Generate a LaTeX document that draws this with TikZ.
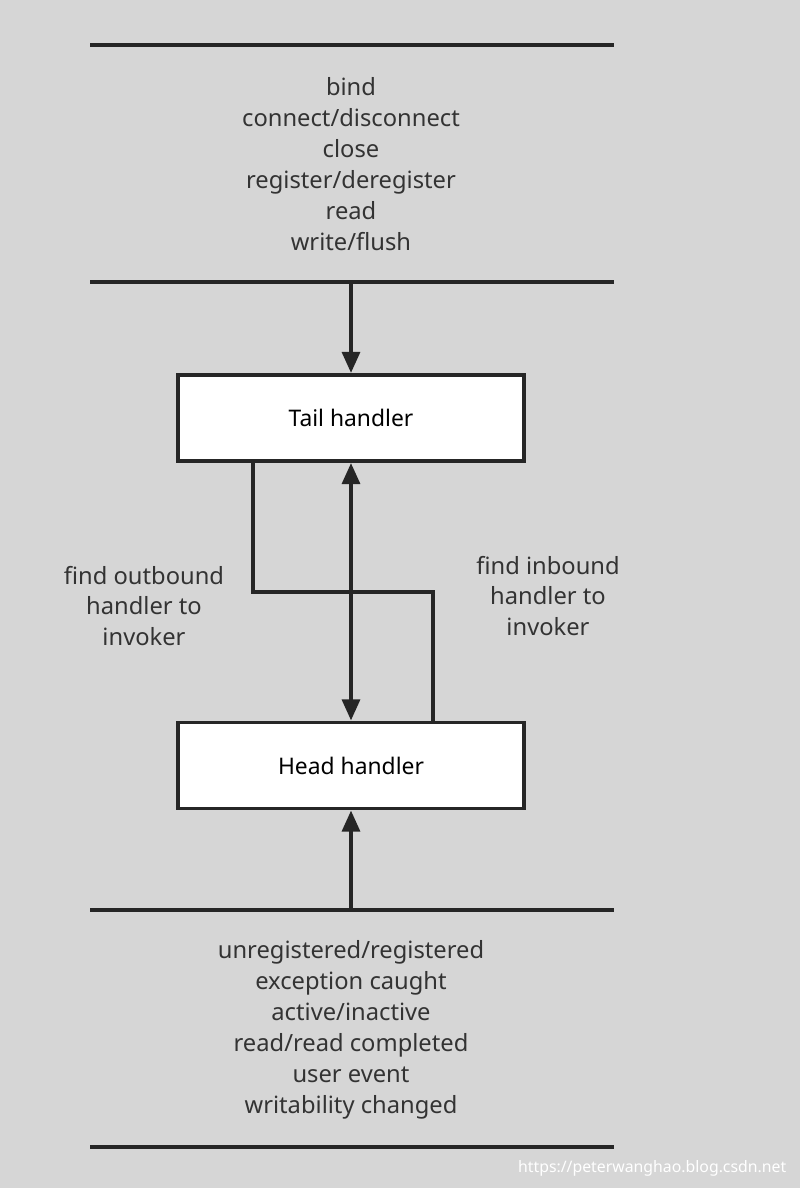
\documentclass[tikz,border=0pt]{standalone}
\usepackage{fontspec}
\setmainfont{Noto Sans}
\usetikzlibrary{arrows.meta}
\begin{document}
\begin{tikzpicture}[
  handler/.style={draw=black!85, line width=2.2pt, fill=white, minimum width=6.92cm, minimum height=1.72cm, font=\fontsize{13}{15}\selectfont},
  events/.style={align=center, font=\fontsize{13.5}{17.6}\selectfont, text=black!80},
  bar/.style={line width=2.4pt, draw=black!85},
  flow/.style={bar, -{Triangle[length=12pt,width=10pt]}}]
\fill[black!16] (0,0) rectangle (16,23.76);
\coordinate (t1) at (1.8,22.86); \coordinate (t2) at (12.28,22.86);
\coordinate (u1) at (1.8,18.12); \coordinate (u2) at (12.28,18.12);
\coordinate (b1) at (1.8,5.56); \coordinate (b2) at (12.28,5.56);
\coordinate (c1) at (1.8,0.82); \coordinate (c2) at (12.28,0.82);
\draw[bar] (t1) -- (t2);
\draw[bar] (u1) -- (u2);
\draw[bar] (b1) -- (b2);
\draw[bar] (c1) -- (c2);
\node[events] (outops) at (7.02,20.48) {bind\\connect/disconnect\\close\\register/deregister\\read\\write/flush};
\node[events] (inops) at (7.02,3.16) {unregistered/registered\\exception caught\\active/inactive\\read/read completed\\user event\\writability changed};
\node[handler] (tail) at (7.02,15.4) {Tail handler};
\node[handler] (head) at (7.02,8.45) {Head handler};
\coordinate (top) at (7.02,18.12);
\coordinate (bottom) at (7.02,5.56);
\draw[flow] (top) -- (tail);
\draw[flow] (bottom) -- (head);
\draw[flow, {Triangle[length=12pt,width=10pt]}-{Triangle[length=12pt,width=10pt]}] (tail) -- (head);
\draw[bar] (tail.south -| 5.06,0) |- (8.66,11.92) -- (head.north -| 8.66,0);
\node[events] (outlabel) at (2.88,11.64) {find outbound\\handler to\\invoker};
\node[events] (inlabel) at (10.96,11.84) {find inbound\\handler to\\invoker};
\node[anchor=east, text=white, font=\fontsize{9}{11}\selectfont] (mark) at (15.85,0.4) {https://peterwanghao.blog.csdn.net};
\end{tikzpicture}
\end{document}
